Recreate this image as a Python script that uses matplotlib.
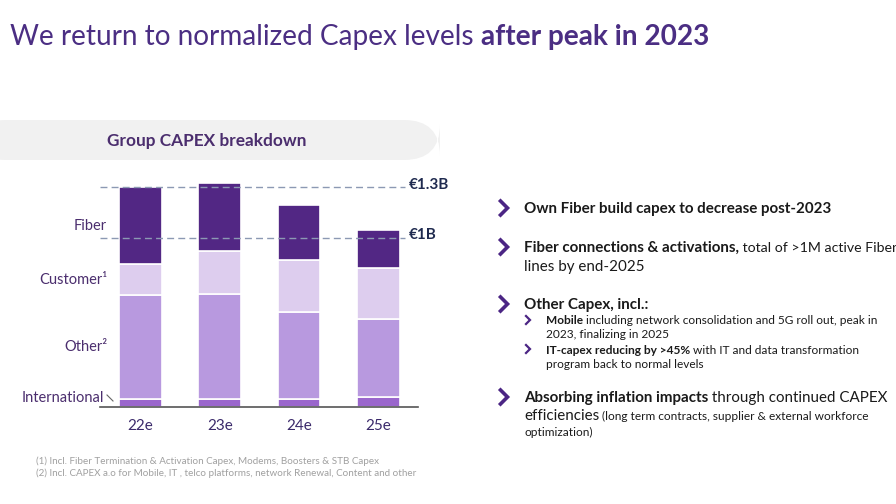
import matplotlib
matplotlib.use("Agg")
import matplotlib.pyplot as plt
from matplotlib.patches import FancyBboxPatch
from matplotlib.lines import Line2D

# Data (EUR billions)
years = ["22e", "23e", "24e", "25e"]
international = [0.047, 0.047, 0.047, 0.056]
other = [0.613, 0.621, 0.512, 0.464]
customer = [0.186, 0.257, 0.312, 0.302]
fiber = [0.455, 0.400, 0.326, 0.225]
ref_levels = [1.3, 1.0]
ref_labels = ["€1.3B", "€1B"]
seg_labels = ["International", "Other²", "Customer¹", "Fiber"]

W, H = 896, 504
plt.rcParams['font.family'] = ['Lato', 'DejaVu Sans']
fig = plt.figure(figsize=(W / 100, H / 100), dpi=100)

def fx(x):
    return x / W

def fy(y):
    return 1 - y / H

# title
t1 = fig.text(fx(10), fy(37), "We return to normalized Capex levels ", fontsize=20.2,
              color="#4B2E83", va="center", ha="left")
r = fig.canvas.get_renderer()
w1 = t1.get_window_extent(renderer=r).width
fig.text(fx(10) + w1 / W, fy(37), "after peak in 2023", fontsize=20.2, fontweight="bold",
         color="#4B2E83", va="center", ha="left")

# header banner
banner = FancyBboxPatch((fx(-30), fy(160)), fx(470), 40 / H,
                        boxstyle="round,pad=0,rounding_size=0.04",
                        transform=fig.transFigure, facecolor="#F1F1F1",
                        edgecolor="none", mutation_aspect=W / H)
fig.patches.append(banner)
fig.text(fx(207), fy(141), "Group CAPEX breakdown", fontsize=12.4, fontweight="bold",
         color="#4B2E6E", ha="center", va="center")

# chart axes
x0, x1 = 100, 418
y_base, y_top = 406.7, 406.7 - 1.4 * 168.7
ax = fig.add_axes([fx(x0), fy(y_base), (x1 - x0) / W, (y_base - y_top) / H])
pos = list(range(len(years)))
width = 0.54
bottom = [0.0] * 4
colors = ["#9A66CC", "#B899DF", "#DDCDEE", "#522784"]
for vals, c in zip([international, other, customer, fiber], colors):
    ax.bar(pos, vals, width, bottom=bottom, color=c, edgecolor="white", linewidth=1.2,
           zorder=2)
    bottom = [b + v for b, v in zip(bottom, vals)]
ax.set_xlim(-0.51, 3.50)
ax.set_ylim(0, 1.4)
for lvl, lab in zip(ref_levels, ref_labels):
    ax.plot([-0.51, 3.33], [lvl, lvl], ls=(0, (5, 3)), color="#8C99B3", lw=1.0, zorder=3)
    ax.text(3.38, lvl + 0.015, lab, fontsize=11, fontweight="bold", color="#1F2A4F",
            va="center", ha="left", clip_on=False)
for s in ["top", "right", "left"]:
    ax.spines[s].set_visible(False)
ax.spines["bottom"].set_color("#555555")
ax.spines["bottom"].set_linewidth(1.2)
ax.set_yticks([])
ax.set_xticks(pos)
ax.set_xticklabels(years, fontsize=11, color="#3B2A6B")
ax.tick_params(axis="x", length=0, pad=9)

# segment labels on the left
lab_y = [398, 347, 280, 226]
for lab, yy in zip(seg_labels, lab_y):
    xr = 104 if lab == "International" else 107
    fig.text(fx(xr), fy(yy), lab, fontsize=10.5, color="#4B2E6E", ha="right", va="center")
fig.add_artist(Line2D([fx(107), fx(113)], [fy(395), fy(401)], color="#666666", lw=0.8))

# right text block
def rich(x, y, parts):
    cx = x
    for txt, bold, size in parts:
        t = fig.text(fx(cx), fy(y), txt, fontsize=size,
                     fontweight="bold" if bold else "normal",
                     color="#1A1A1A", ha="left", va="center")
        cx += t.get_window_extent(renderer=r).width

def chevron(x, y, s, lw):
    fig.add_artist(Line2D([fx(x - s / 2), fx(x + s / 2), fx(x - s / 2)],
                          [fy(y - s), fy(y), fy(y + s)],
                          color="#4B2584", lw=lw, solid_joinstyle="miter"))

big, small = 10.9, 8.6
chevron(504, 208, 7, 2.6)
rich(524, 209, [("Own Fiber build capex to decrease post-2023", True, big)])
chevron(504, 247, 7, 2.6)
rich(524, 248, [("Fiber connections & activations,", True, big),
                (" total of >1M active Fiber", False, 10.2)])
rich(524, 267, [("lines by end-2025", False, big)])
chevron(504, 304, 7, 2.6)
rich(524, 305, [("Other Capex, incl.:", True, big)])
chevron(528, 320, 4, 1.6)
rich(546, 320, [("Mobile", True, small),
                (" including network consolidation and 5G roll out, peak in", False, small)])
rich(546, 335, [("2023, finalizing in 2025", False, small)])
chevron(528, 349, 4, 1.6)
rich(546, 350, [("IT-capex reducing by >45%", True, small),
                (" with IT and data transformation", False, small)])
rich(546, 364, [("program back to normal levels", False, small)])
chevron(504, 397, 7, 2.6)
rich(524, 398, [("Absorbing inflation impacts", True, big),
                (" through continued CAPEX", False, big)])
rich(524, 416, [("efficiencies", False, big),
                (" (long term contracts, supplier & external workforce", False, small)])
rich(524, 432, [("optimization)", False, small)])

# footnotes
fig.text(fx(36), fy(461), "(1) Incl. Fiber Termination & Activation Capex, Modems, Boosters & STB Capex",
         fontsize=7.1, color="#A0A0A0", ha="left", va="center")
fig.text(fx(36), fy(473), "(2) Incl. CAPEX a.o for Mobile, IT , telco platforms, network Renewal, Content and other",
         fontsize=7.1, color="#A0A0A0", ha="left", va="center")

fig.savefig("out.png", dpi=100)
